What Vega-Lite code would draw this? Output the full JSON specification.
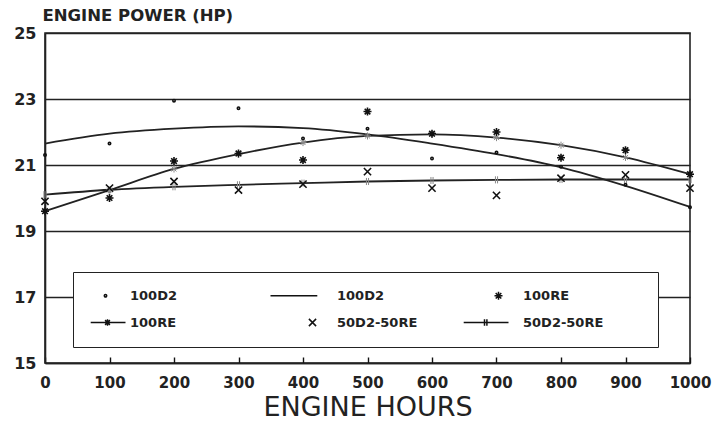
{
  "$schema": "https://vega.github.io/schema/vega-lite/v6.json",
  "width": 645,
  "height": 330,
  "autosize": {"type": "none"},
  "padding": {"left": 45, "top": 33, "right": 35, "bottom": 59},
  "background": "white",
  "config": {"view": {"stroke": "#222", "strokeWidth": 1.6}, "font": "DejaVu Sans"},
  "datasets": {
    "pts": [
      {"hours": 0, "hp": 21.3, "series": "100D2"},
      {"hours": 100, "hp": 21.65, "series": "100D2"},
      {"hours": 200, "hp": 22.95, "series": "100D2"},
      {"hours": 300, "hp": 22.72, "series": "100D2"},
      {"hours": 400, "hp": 21.8, "series": "100D2"},
      {"hours": 500, "hp": 22.1, "series": "100D2"},
      {"hours": 600, "hp": 21.2, "series": "100D2"},
      {"hours": 700, "hp": 21.38, "series": "100D2"},
      {"hours": 800, "hp": 20.95, "series": "100D2"},
      {"hours": 900, "hp": 20.4, "series": "100D2"},
      {"hours": 1000, "hp": 19.72, "series": "100D2"},
      {"hours": 0, "hp": 19.6, "series": "100RE"},
      {"hours": 100, "hp": 20.0, "series": "100RE"},
      {"hours": 200, "hp": 21.12, "series": "100RE"},
      {"hours": 300, "hp": 21.35, "series": "100RE"},
      {"hours": 400, "hp": 21.15, "series": "100RE"},
      {"hours": 500, "hp": 22.62, "series": "100RE"},
      {"hours": 600, "hp": 21.95, "series": "100RE"},
      {"hours": 700, "hp": 22.0, "series": "100RE"},
      {"hours": 800, "hp": 21.22, "series": "100RE"},
      {"hours": 900, "hp": 21.45, "series": "100RE"},
      {"hours": 1000, "hp": 20.72, "series": "100RE"},
      {"hours": 0, "hp": 19.9, "series": "50D2-50RE"},
      {"hours": 100, "hp": 20.3, "series": "50D2-50RE"},
      {"hours": 200, "hp": 20.5, "series": "50D2-50RE"},
      {"hours": 300, "hp": 20.24, "series": "50D2-50RE"},
      {"hours": 400, "hp": 20.42, "series": "50D2-50RE"},
      {"hours": 500, "hp": 20.8, "series": "50D2-50RE"},
      {"hours": 600, "hp": 20.3, "series": "50D2-50RE"},
      {"hours": 700, "hp": 20.08, "series": "50D2-50RE"},
      {"hours": 800, "hp": 20.6, "series": "50D2-50RE"},
      {"hours": 900, "hp": 20.7, "series": "50D2-50RE"},
      {"hours": 1000, "hp": 20.3, "series": "50D2-50RE"}
    ],
    "fit": [
      {"hours": 0, "hp": 21.65, "series": "100D2"},
      {"hours": 100, "hp": 21.95, "series": "100D2"},
      {"hours": 200, "hp": 22.1, "series": "100D2"},
      {"hours": 300, "hp": 22.17, "series": "100D2"},
      {"hours": 400, "hp": 22.12, "series": "100D2"},
      {"hours": 500, "hp": 21.93, "series": "100D2"},
      {"hours": 600, "hp": 21.65, "series": "100D2"},
      {"hours": 700, "hp": 21.33, "series": "100D2"},
      {"hours": 800, "hp": 20.93, "series": "100D2"},
      {"hours": 900, "hp": 20.37, "series": "100D2"},
      {"hours": 1000, "hp": 19.73, "series": "100D2"},
      {"hours": 0, "hp": 19.6, "series": "100RE"},
      {"hours": 100, "hp": 20.24, "series": "100RE"},
      {"hours": 200, "hp": 20.88, "series": "100RE"},
      {"hours": 300, "hp": 21.33, "series": "100RE"},
      {"hours": 400, "hp": 21.68, "series": "100RE"},
      {"hours": 500, "hp": 21.88, "series": "100RE"},
      {"hours": 600, "hp": 21.93, "series": "100RE"},
      {"hours": 700, "hp": 21.83, "series": "100RE"},
      {"hours": 800, "hp": 21.6, "series": "100RE"},
      {"hours": 900, "hp": 21.23, "series": "100RE"},
      {"hours": 1000, "hp": 20.72, "series": "100RE"},
      {"hours": 0, "hp": 20.1, "series": "50D2-50RE"},
      {"hours": 100, "hp": 20.25, "series": "50D2-50RE"},
      {"hours": 200, "hp": 20.34, "series": "50D2-50RE"},
      {"hours": 300, "hp": 20.4, "series": "50D2-50RE"},
      {"hours": 400, "hp": 20.45, "series": "50D2-50RE"},
      {"hours": 500, "hp": 20.5, "series": "50D2-50RE"},
      {"hours": 600, "hp": 20.53, "series": "50D2-50RE"},
      {"hours": 700, "hp": 20.55, "series": "50D2-50RE"},
      {"hours": 800, "hp": 20.56, "series": "50D2-50RE"},
      {"hours": 900, "hp": 20.56, "series": "50D2-50RE"},
      {"hours": 1000, "hp": 20.56, "series": "50D2-50RE"}
    ]
  },
  "encoding": {
    "x": {
      "field": "hours",
      "type": "quantitative",
      "scale": {"domain": [0, 1000], "nice": false},
      "axis": {
        "values": [0, 100, 200, 300, 400, 500, 600, 700, 800, 900, 1000],
        "format": "d",
        "grid": false,
        "ticks": true,
        "tickSize": -6,
        "tickWidth": 1.4,
        "tickColor": "#111",
        "title": "ENGINE HOURS",
        "titleFont": "DejaVu Sans",
        "titleFontSize": 27,
        "titleFontWeight": "normal",
        "titleColor": "#222",
        "titlePadding": 4,
        "labelFont": "DejaVu Sans",
        "labelFontWeight": "bold",
        "labelFontSize": 15,
        "labelColor": "#222",
        "labelPadding": 18,
        "labelFlush": false,
        "domainColor": "#222",
        "domainWidth": 1.6
      }
    },
    "y": {
      "field": "hp",
      "type": "quantitative",
      "scale": {"domain": [15, 25], "nice": false},
      "axis": {
        "values": [15, 17, 19, 21, 23, 25],
        "grid": true,
        "gridColor": "#222",
        "gridWidth": 1.5,
        "ticks": false,
        "domainColor": "#222",
        "domainWidth": 1.6,
        "labelFont": "DejaVu Sans",
        "labelFontWeight": "bold",
        "labelFontSize": 16,
        "labelColor": "#222",
        "labelPadding": 9,
        "title": "ENGINE POWER (HP)",
        "titleAngle": 0,
        "titleAlign": "left",
        "titleBaseline": "alphabetic",
        "titleX": -3,
        "titleY": -13,
        "titleFont": "DejaVu Sans",
        "titleFontSize": 16.5,
        "titleFontWeight": "bold",
        "titleColor": "#222"
      }
    }
  },
  "layer": [
    {
      "data": {"name": "fit"},
      "mark": {"type": "line", "interpolate": "monotone", "color": "#222", "strokeWidth": 1.8},
      "encoding": {"detail": {"field": "series"}}
    },
    {
      "data": {"name": "fit"},
      "transform": [{"filter": "datum.series == '100RE'"}],
      "mark": {"type": "point", "shape": "M-1,0H1M0,-1V1M-0.7,-0.7L0.7,0.7M-0.7,0.7L0.7,-0.7", "size": 50, "color": "#888", "strokeWidth": 1, "filled": false, "opacity": 1}
    },
    {
      "data": {"name": "fit"},
      "transform": [{"filter": "datum.series == '50D2-50RE'"}],
      "mark": {"type": "point", "shape": "M-0.3,-1V1M0.3,-1V1", "size": 50, "color": "#888", "strokeWidth": 1, "filled": false, "opacity": 1}
    },
    {
      "data": {"name": "pts"},
      "mark": {"type": "point", "filled": false, "color": "#111", "strokeWidth": 1.6, "size": 64, "opacity": 1},
      "encoding": {
        "shape": {
          "field": "series",
          "type": "nominal",
          "scale": {
            "domain": ["100D2", "100RE fit", "100D2 fit", "50D2-50RE", "100RE", "50D2-50RE fit"],
            "range": [
              "M-0.3,0A0.3,0.3 0 1,0 0.3,0A0.3,0.3 0 1,0 -0.3,0Z",
              "M-3.7,0H5M0.5,-0.8V0.8M-0.1,-0.6L1.1,0.6M-0.1,0.6L1.1,-0.6",
              "M-22.5,0M-10.5,0H1.2",
              "M-0.9,-0.9L0.9,0.9M-0.9,0.9L0.9,-0.9",
              "M-1,0H1M0,-1V1M-0.7,-0.7L0.7,0.7M-0.7,0.7L0.7,-0.7",
              "M-8.7,0H2.5M-3.5,-0.8V0.8M-2.9,-0.8V0.8M34.7,0"
            ]
          },
          "legend": {
            "title": null,
            "orient": "none",
            "legendX": 28,
            "legendY": 239,
            "columns": 3,
            "gridAlign": "each",
            "columnPadding": 42,
            "rowPadding": 12,
            "padding": 17,
            "symbolOffset": 9,
            "labelExpr": "replace(datum.label, ' fit', '')",
            "labelFont": "DejaVu Sans",
            "labelFontWeight": "bold",
            "labelFontSize": 13,
            "labelColor": "#222",
            "labelOffset": 18,
            "labelLimit": 400,
            "symbolSize": 64,
            "symbolStrokeWidth": 1.5,
            "symbolStrokeColor": "#111",
            "symbolFillColor": "transparent",
            "fillColor": "white",
            "strokeColor": "#222"
          }
        }
      }
    }
  ]
}
